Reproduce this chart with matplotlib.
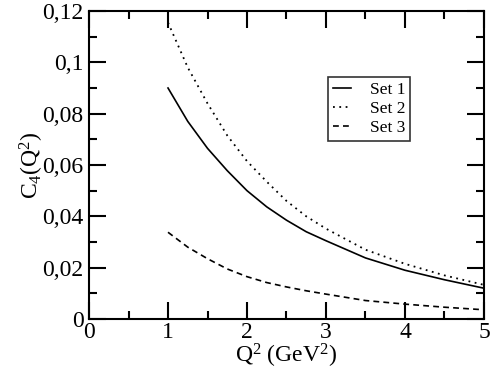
import numpy as np
import matplotlib
matplotlib.use("Agg")
import matplotlib.pyplot as plt
from matplotlib.ticker import MultipleLocator, FixedLocator

plt.rcParams['font.family'] = 'Liberation Serif'
plt.rcParams['mathtext.fontset'] = 'custom'
plt.rcParams['mathtext.rm'] = 'Liberation Serif'
plt.rcParams['mathtext.it'] = 'Liberation Serif:italic'

# Q^2 grid and the three curves
q2 = [1.0, 1.25, 1.5, 1.75, 2.0, 2.25, 2.5, 2.75, 3.0, 3.5, 4.0, 4.5, 5.0]
set1 = [0.090, 0.077, 0.0665, 0.0578, 0.050, 0.0437, 0.0385, 0.034, 0.0305, 0.0238, 0.019, 0.0153, 0.012]
set2 = [0.1155, 0.098, 0.084, 0.0715, 0.0615, 0.0535, 0.046, 0.040, 0.0352, 0.027, 0.0215, 0.017, 0.0133]
set3 = [0.0338, 0.028, 0.0235, 0.0195, 0.0165, 0.0142, 0.0125, 0.011, 0.0097, 0.0072, 0.0058, 0.0046, 0.0036]

ytick_vals = [0, 0.02, 0.04, 0.06, 0.08, 0.1, 0.12]
ytick_labels = ['0', '0,02', '0,04', '0,06', '0,08', '0,1', '0,12']

fig = plt.figure(figsize=(4.91, 3.77), dpi=100)
ax = fig.add_axes([0.1813, 0.1538, 0.8044, 0.817])

ax.plot(q2, set1, color='black', lw=1.2, label='Set 1')
ax.plot(q2, set2, color='black', lw=1.3, linestyle=(0, (1, 2.5)), label='Set 2')
ax.plot(q2, set3, color='black', lw=1.2, linestyle=(0, (3.5, 2.5)), label='Set 3')

ax.set_xlim(0, 5)
ax.set_ylim(0, 0.12)
ax.xaxis.set_major_locator(MultipleLocator(1))
ax.xaxis.set_minor_locator(MultipleLocator(0.5))
ax.yaxis.set_major_locator(FixedLocator(ytick_vals))
ax.yaxis.set_minor_locator(MultipleLocator(0.01))
ax.set_yticklabels(ytick_labels)

for s in ax.spines.values():
    s.set_linewidth(1.5)
ax.tick_params(which='both', direction='in', top=True, right=True, width=1.5, labelsize=17)
ax.tick_params(which='major', length=12)
ax.tick_params(which='minor', length=6)
ax.tick_params(axis='y', pad=4)
ax.tick_params(axis='x', pad=2)

ax.set_xlabel(r'Q$^2$ (GeV$^2$)', fontsize=17, labelpad=-1)
ax.set_ylabel(r'C$_4$(Q$^2$)', fontsize=17, labelpad=-3)

leg = ax.legend(loc='upper left', bbox_to_anchor=(0.605, 0.786), fontsize=12.5, frameon=True,
                fancybox=False, edgecolor='black', handlelength=1.0, handletextpad=1.1,
                labelspacing=0.15, borderpad=0.3, borderaxespad=0)
leg.get_frame().set_linewidth(1.2)

fig.savefig('out.png', dpi=100)
